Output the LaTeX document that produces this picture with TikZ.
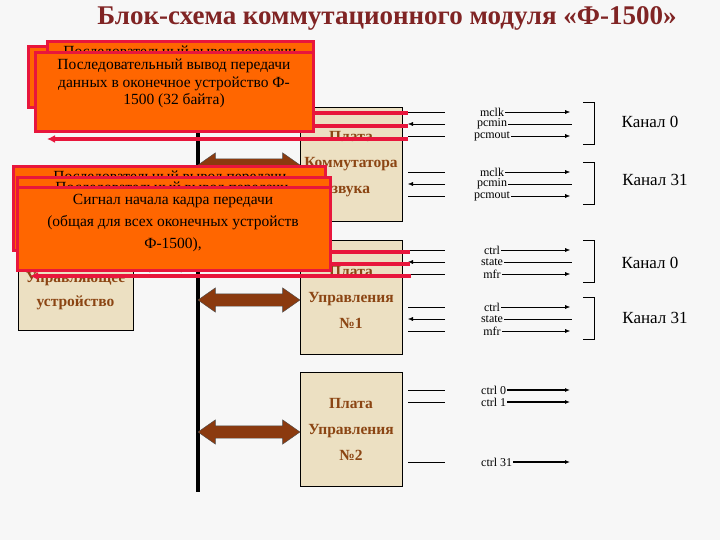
\documentclass[tikz,border=0pt]{standalone}
\usepackage{fontspec}
\setmainfont{Liberation Serif}
\usetikzlibrary{shapes.arrows,arrows.meta,positioning}
\definecolor{plate}{RGB}{236,224,194}
\definecolor{platetext}{RGB}{139,69,19}
\definecolor{busarrow}{RGB}{139,58,15}
\definecolor{callout}{RGB}{255,102,0}
\definecolor{calloutline}{RGB}{232,22,60}
\definecolor{titlecol}{RGB}{128,36,36}
\tikzset{
  board/.style={draw=black, fill=plate, minimum width=102, minimum height=114,
    align=center, text=platetext, font=\bfseries\fontsize{15.5}{26}\selectfont,
    inner sep=0},
  dbl/.style={double arrow, fill=busarrow, draw=black!70, inner sep=6,
    double arrow head extend=6, double arrow tip angle=70, minimum width=24},
  pin/.style={font=\fontsize{12}{12}\selectfont, inner sep=1},
  chan/.style={font=\fontsize{17}{17}\selectfont},
  callbox/.style={fill=callout, draw=calloutline, line width=3},
  calltext/.style={align=center, font=\fontsize{15.5}{17.5}\selectfont, inner sep=0},
  redline/.style={calloutline, line width=3.5},
  tip/.style={-{Latex[length=5,width=4]}},
}
\begin{document}
\begin{tikzpicture}[x=1pt,y=-1pt]
% Background
\fill[gray!6] (0,0) rectangle (720,540);
\useasboundingbox (0,0) rectangle (720,540);

% Title
\node[font=\bfseries\fontsize{27}{27}\selectfont, text=titlecol] (title) at (387,18)
  {Блок-схема коммутационного модуля «Ф-1500»};

% Bus
\coordinate (bt) at (198,110);
\coordinate (bb) at (198,492);
\draw[line width=4] (bt) -- (bb);

% Boards
\node[board, minimum width=115, minimum height=160] (uu) at (75.5,250) {};
\node[text=platetext, font=\bfseries\fontsize{15.5}{24}\selectfont, align=center] (uutext)
  at (75.5,291) {Управляющее\\устройство};
\node[board] (kom) at (351,164) {Плата\\Коммутатора\\звука};
\node[board] (up1) at (351,297) {Плата\\Управления\\№1};
\node[board] (up2) at (351,429) {Плата\\Управления\\№2};

% Bus arrows
\node[dbl, minimum height=66] (a0) at (165.5,260) {};
\node[dbl, minimum height=102] (a1) at (249,165) {};
\node[dbl, minimum height=102] (a2) at (249,300) {};
\node[dbl, minimum height=102] (a3) at (249,432) {};

% Pins of the boards
\foreach \y/\a/\b/\c/\n in {112/mclk/pcmin/pcmout/k0, 172/mclk/pcmin/pcmout/k1,
                            250/ctrl/state/mfr/u0, 307/ctrl/state/mfr/u1} {
  \draw (408,\y) -- (445,\y);
  \draw[tip] (445,\y+12) -- (408,\y+12);
  \draw (408,\y+24) -- (445,\y+24);
  \node[pin] (\n a) at (492,\y) {\a};
  \node[pin] (\n b) at (492,\y+12) {\b};
  \node[pin] (\n c) at (492,\y+24) {\c};
  \draw[tip] (\n a.east) -- (570,\y);
  \draw (\n b.east) -- (572,\y+12);
  \draw[tip] (\n c.east) -- (570,\y+24);
  \draw (583,\y-10) -- (594,\y-10) -- (594,\y+32) -- (583,\y+32);
}
\node[chan] (ch0) at (650,122) {Канал 0};
\node[chan] (ch1) at (655,180) {Канал 31};
\node[chan] (ch2) at (650,263) {Канал 0};
\node[chan] (ch3) at (655,318) {Канал 31};

\foreach \y/\t/\n in {390/ctrl 0/c0, 402/ctrl 1/c1, 462/ctrl 31/c31} {
  \draw (408,\y) -- (445,\y);
  \node[pin, anchor=west] (\n) at (480,\y) {\t};
  \draw[tip, line width=1.2] (\n.east) -- (570,\y);
}

% Callouts
\draw[callbox] (28,47) rectangle (310,108);
\draw[callbox] (47,42) rectangle (313,102);
\node[calltext, anchor=north] (cb1) at (180,46) {Последовательный вывод передачи};
\draw[callbox] (35,53) rectangle (313,132);
\node[calltext, anchor=north] (c1) at (174,59)
  {Последовательный вывод передачи\\данных в оконечное устройство Ф-\\1500 (32 байта)};

\draw[callbox] (13,167) rectangle (325,250);
\node[calltext, anchor=north] (cb2) at (170,171) {Последовательный вывод передачи};
\draw[callbox] (17,178) rectangle (330,255);
\node[calltext, anchor=north] (cb3) at (172,182) {Последовательный вывод передачи};
\draw[callbox] (17,188) rectangle (330,270);
\node[calltext, anchor=north, font=\fontsize{15.5}{22}\selectfont] (c2) at (173,194)
  {Сигнал начала кадра передачи\\(общая для всех оконечных устройств\\Ф-1500),};

% Red leads
\draw[redline] (313,113) -- (408,113);
\draw[redline] (313,126) -- (408,126);
\draw[redline, -{Latex[length=8,width=8]}] (408,139) -- (47,139);
\draw[redline] (330,252) -- (410,252);
\draw[redline] (330,264) -- (410,264);
\draw[redline, -{Latex[length=8,width=8]}] (411,276) -- (30,276);
\end{tikzpicture}
\end{document}
